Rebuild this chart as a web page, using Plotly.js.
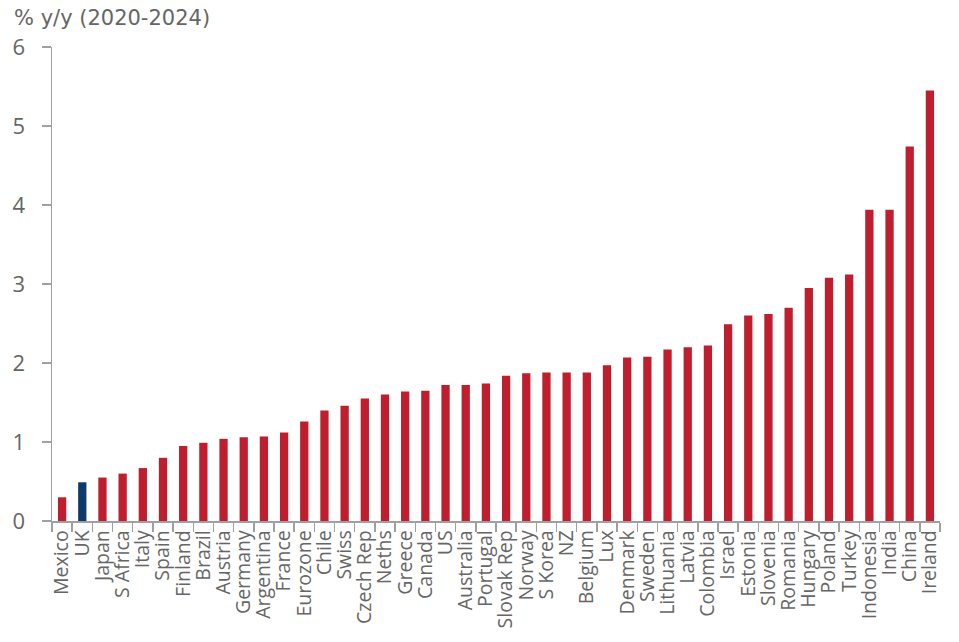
<!DOCTYPE html>
<html>
<head>
<meta charset="utf-8">
<script src="https://cdn.plot.ly/plotly-3.0.1.min.js"></script>
<style>
  html, body { margin: 0; padding: 0; background: #fff; }
  #chart { width: 959px; height: 642px; }
</style>
</head>
<body>
<div id="chart"></div>
<script>
// Countries, sorted low to high
const countries = ['Mexico', 'UK', 'Japan', 'S Africa', 'Italy', 'Spain', 'Finland', 'Brazil',
  'Austria', 'Germany', 'Argentina', 'France', 'Eurozone', 'Chile', 'Swiss', 'Czech Rep',
  'Neths', 'Greece', 'Canada', 'US', 'Australia', 'Portugal', 'Slovak Rep', 'Norway',
  'S Korea', 'NZ', 'Belgium', 'Lux', 'Denmark', 'Sweden', 'Lithuania', 'Latvia', 'Colombia',
  'Israel', 'Estonia', 'Slovenia', 'Romania', 'Hungary', 'Poland', 'Turkey', 'Indonesia',
  'India', 'China', 'Ireland'];

// % y/y, 2020-2024
const growth = [0.30, 0.49, 0.55, 0.60, 0.67, 0.80, 0.95, 0.99, 1.04, 1.06, 1.07, 1.12,
  1.26, 1.40, 1.46, 1.55, 1.60, 1.64, 1.65, 1.72, 1.72, 1.74, 1.84, 1.87, 1.88, 1.88,
  1.88, 1.97, 2.07, 2.08, 2.17, 2.20, 2.22, 2.49, 2.60, 2.62, 2.70, 2.95, 3.08, 3.12,
  3.94, 3.94, 4.74, 5.45];

const highlight = 'UK';
const red = '#be1e2d';
const navy = '#0f3a6b';

const colors = countries.map(c => c === highlight ? navy : red);

const data = [{
  type: 'bar',
  x: countries,
  y: growth,
  marker: { color: colors, line: { width: 0 } },
  hoverinfo: 'x+y'
}];

const axisGrey = '#a0a0a0';
const textGrey = '#666666';

const layout = {
  width: 959,
  height: 642,
  margin: { l: 52, r: 19, t: 47, b: 121 },
  paper_bgcolor: '#ffffff',
  plot_bgcolor: '#ffffff',
  font: { family: 'Open Sans, sans-serif', color: textGrey },
  showlegend: false,
  bargap: 0.59,
  title: {
    text: '% y/y (2020-2024)',
    xref: 'container', yref: 'container',
    x: 14 / 959, xanchor: 'left',
    y: 1 - 18 / 642, yanchor: 'middle',
    font: { size: 21, color: textGrey, family: 'DejaVu Sans, sans-serif' }
  },
  xaxis: {
    type: 'category',
    tickmode: 'array',
    tickvals: countries,
    ticktext: countries,
    tickangle: -90,
    tickson: 'boundaries',
    ticks: 'outside',
    ticklen: 9,
    tickcolor: axisGrey,
    tickwidth: 1.5,
    showline: true,
    linecolor: axisGrey,
    linewidth: 1.5,
    showgrid: false,
    tickfont: { size: 19.5, color: textGrey },
    fixedrange: true
  },
  yaxis: {
    range: [0, 6],
    dtick: 1,
    ticks: 'outside',
    ticklen: 9,
    tickcolor: axisGrey,
    tickwidth: 1.5,
    showline: true,
    linecolor: axisGrey,
    linewidth: 1.5,
    showgrid: false,
    zeroline: false,
    ticklabelstandoff: 12,
    tickfont: { size: 22, color: textGrey },
    fixedrange: true
  }
};

Plotly.newPlot('chart', data, layout, { displayModeBar: false, staticPlot: true });
</script>
</body>
</html>
